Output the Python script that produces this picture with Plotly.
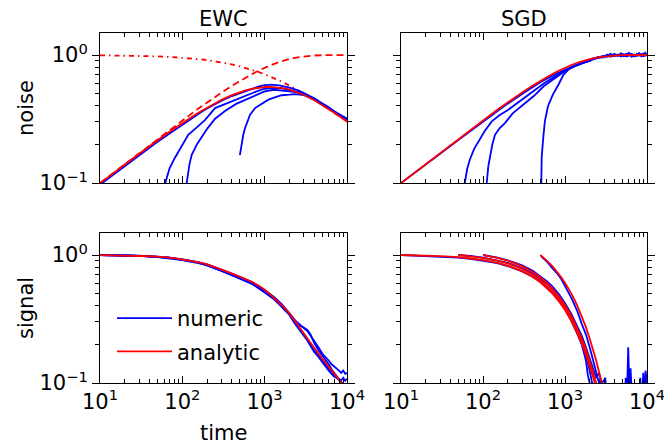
import plotly.graph_objects as go

# ---------------- data ----------------
T = [10, 12, 15, 20, 25, 30, 40, 50, 70, 100, 130, 170, 200, 250, 300, 400, 500, 600,
     700, 850, 1000, 1200, 1500, 1800, 2000, 2500, 3000, 4000, 5000, 6000, 7000, 8500, 10000]

ewc_noise_analytic = [0.100, 0.1086, 0.1211, 0.1393, 0.1552, 0.1694, 0.1942, 0.2155, 0.2513, 0.2942,
                      0.3284, 0.3655, 0.3887, 0.4206, 0.4465, 0.4853, 0.5122, 0.5311, 0.5442, 0.5563,
                      0.5622, 0.5636, 0.5575, 0.5460, 0.5369, 0.5121, 0.4874, 0.4431, 0.4068, 0.3775,
                      0.3534, 0.3244, 0.3015]
ewc_noise_dashed = [0.0998, 0.1092, 0.1220, 0.1407, 0.1571, 0.1719, 0.1980, 0.2208, 0.2600, 0.3085,
                    0.3491, 0.3954, 0.4258, 0.4703, 0.5091, 0.5742, 0.6273, 0.6717, 0.7095, 0.7567,
                    0.7951, 0.8360, 0.8814, 0.9136, 0.9299, 0.9581, 0.9748, 0.9908, 0.9966, 0.9988,
                    0.9995, 0.9999, 1.0]
ewc_noise_dashdot = [0.9950, 0.9941, 0.9926, 0.9901, 0.9877, 0.9853, 0.9806, 0.9759, 0.9667, 0.9535,
                     0.9407, 0.9245, 0.9129, 0.8944, 0.8771, 0.8452, 0.8165, 0.7906, 0.7670, 0.7352,
                     0.7071, 0.6742, 0.6325, 0.5976, 0.5774, 0.5345, 0.5000, 0.4472, 0.4082, 0.3780,
                     0.3536, 0.3244, 0.3015]

ewc_n1_t = T
ewc_n1_v = [0.097, 0.106, 0.118, 0.136, 0.150, 0.165, 0.188, 0.210, 0.244, 0.286, 0.322, 0.358, 0.382,
            0.415, 0.440, 0.478, 0.505, 0.525, 0.545, 0.568, 0.582, 0.588, 0.578, 0.565, 0.555, 0.532,
            0.505, 0.458, 0.420, 0.388, 0.362, 0.337, 0.318]
ewc_n2_t = [55, 58, 62, 70, 81, 100, 118, 150, 188, 250, 330, 450, 630, 800, 1000, 1300, 1600, 2000,
            2500, 3000, 4000, 5000, 6000, 7000, 8500, 10000]
ewc_n2_v = [0.03, 0.06, 0.10, 0.13, 0.157, 0.20, 0.238, 0.272, 0.31, 0.385, 0.415, 0.45, 0.49, 0.52,
            0.545, 0.555, 0.55, 0.535, 0.515, 0.495, 0.46, 0.418, 0.39, 0.362, 0.337, 0.316]
ewc_n3_t = [108, 110, 113, 122, 130, 150, 171, 200, 250, 330, 450, 630, 800, 1000, 1300, 1600, 2000,
            2500, 3000, 4000, 5000, 6000, 7000, 8500, 10000]
ewc_n3_v = [0.04, 0.07, 0.10, 0.14, 0.166, 0.20, 0.228, 0.265, 0.318, 0.365, 0.415, 0.455, 0.49, 0.52,
            0.535, 0.53, 0.52, 0.51, 0.49, 0.452, 0.412, 0.382, 0.356, 0.332, 0.312]
ewc_n4_t = [500, 520, 550, 578, 632, 665, 764, 922, 1110, 1300, 1612, 2000, 2338, 3000, 4000, 5000,
            6000, 7000, 8500, 10000]
ewc_n4_v = [0.165, 0.20, 0.238, 0.269, 0.31, 0.342, 0.385, 0.414, 0.448, 0.465, 0.485, 0.49, 0.495,
            0.485, 0.45, 0.415, 0.385, 0.36, 0.335, 0.318]

sgd_noise_analytic = ewc_noise_dashed
LATE_T = [2200, 2500, 2800, 3000, 3300, 3600, 4000, 4400, 4800, 5200, 5600, 6000, 6500, 7000, 7500,
          8000, 8500, 9000, 9500, 10000]
sgd_n1_t = [10, 15, 20, 30, 50, 70, 100, 150, 200, 300, 400, 500, 700, 1000, 1300, 1600, 2000] + LATE_T
sgd_n1_v = [0.1, 0.121, 0.139, 0.169, 0.217, 0.255, 0.302, 0.366, 0.417, 0.497, 0.56, 0.612, 0.69,
            0.77, 0.825, 0.86, 0.905] + \
           [0.93, 0.95, 0.965, 0.96, 0.995, 0.975, 1.02, 0.985, 1.03, 1.0, 0.98, 1.025, 0.99, 1.01,
            0.98, 1.035, 1.0, 0.99, 1.04, 1.0]
sgd_n2_t = [57, 60, 64, 69, 78, 88, 105, 128, 160, 204, 260, 325, 420, 550, 700, 850, 1000, 1300,
            1600, 2000] + LATE_T
sgd_n2_v = [0.05, 0.10, 0.128, 0.152, 0.185, 0.212, 0.255, 0.303, 0.34, 0.374, 0.42, 0.461, 0.52,
            0.60, 0.66, 0.71, 0.76, 0.815, 0.865, 0.905] + \
           [0.935, 0.955, 0.97, 0.985, 0.97, 1.0, 0.985, 1.01, 0.975, 1.0, 1.02, 0.985, 1.0, 0.975,
            1.02, 0.99, 1.005, 1.025, 0.985, 1.01]
sgd_n3_t = [108, 111, 116, 122, 130, 140, 160, 185, 230, 325, 420, 550, 700, 850, 1000, 1300, 1600,
            2000] + LATE_T
sgd_n3_v = [0.05, 0.10, 0.135, 0.166, 0.20, 0.238, 0.268, 0.294, 0.35, 0.42, 0.48, 0.57, 0.64, 0.70,
            0.75, 0.815, 0.86, 0.90] + \
           [0.925, 0.96, 0.955, 0.98, 1.01, 0.97, 1.0, 0.99, 1.015, 0.98, 1.0, 1.04, 0.97, 1.0,
            0.99, 1.02, 0.975, 1.0, 1.02, 0.99]
sgd_n4_t = [505, 509, 520, 543, 568, 620, 711, 831, 957, 1100, 1300, 1600, 2000] + LATE_T
sgd_n4_v = [0.05, 0.10, 0.16, 0.225, 0.303, 0.398, 0.49, 0.586, 0.70, 0.77, 0.82, 0.865, 0.90] + \
           [0.94, 0.945, 0.975, 0.97, 0.985, 1.02, 0.98, 1.0, 0.99, 1.01, 0.975, 1.0, 1.02, 0.985,
            1.0, 0.995, 1.01, 0.98, 1.0, 1.02]

ewc_signal_analytic = [0.998, 0.997, 0.995, 0.992, 0.989, 0.985, 0.978, 0.970, 0.955, 0.925, 0.900,
                       0.867, 0.845, 0.805, 0.770, 0.715, 0.675, 0.648, 0.618, 0.575, 0.535, 0.485,
                       0.425, 0.378, 0.350, 0.285, 0.245, 0.188, 0.155, 0.133, 0.117, 0.101, 0.089]
ES_T = [10, 15, 20, 30, 50, 70, 100, 150, 200, 300, 400, 500, 700, 1000, 1300, 1600, 2000, 2300,
        2600, 3000, 3300, 3600, 4000, 4500, 5000, 5500, 6000, 6500, 7000, 7500, 8000, 8500, 9000,
        9500, 10000]
ewc_s1_v = [1.0, 0.997, 0.993, 0.985, 0.968, 0.952, 0.92, 0.88, 0.84, 0.765, 0.71, 0.67, 0.61, 0.525,
            0.465, 0.41, 0.35, 0.31, 0.29, 0.265, 0.255, 0.235, 0.21, 0.19, 0.17, 0.16, 0.15, 0.14,
            0.135, 0.13, 0.125, 0.12, 0.125, 0.118, 0.12]
ewc_s2_v = [1.0, 0.996, 0.992, 0.983, 0.966, 0.948, 0.915, 0.875, 0.83, 0.755, 0.70, 0.66, 0.60, 0.515,
            0.455, 0.40, 0.345, 0.30, 0.27, 0.24, 0.22, 0.20, 0.185, 0.165, 0.15, 0.14, 0.13, 0.12,
            0.115, 0.11, 0.105, 0.10, 0.097, 0.095, 0.092]
ewc_s3_v = [1.0, 0.998, 0.994, 0.987, 0.97, 0.955, 0.925, 0.885, 0.845, 0.77, 0.715, 0.675, 0.615,
            0.53, 0.47, 0.415, 0.35, 0.31, 0.285, 0.27, 0.26, 0.24, 0.205, 0.18, 0.165, 0.15, 0.14,
            0.128, 0.12, 0.112, 0.105, 0.10, 0.095, 0.09, 0.088]
ewc_s4_v = [1.0, 0.997, 0.992, 0.984, 0.965, 0.945, 0.912, 0.87, 0.828, 0.75, 0.695, 0.655, 0.595,
            0.51, 0.45, 0.395, 0.34, 0.295, 0.265, 0.235, 0.215, 0.195, 0.175, 0.16, 0.145, 0.135,
            0.125, 0.118, 0.112, 0.11, 0.108, 0.105, 0.11, 0.104, 0.108]

sgd_r10_t = [10, 15, 20, 30, 50, 70, 100, 150, 200, 300, 400, 500, 600, 700, 850, 1000, 1200, 1400,
             1600, 1800, 2000, 2200, 2400, 2600]
sgd_r10_v = [1.0, 0.995, 0.990, 0.980, 0.961, 0.942, 0.914, 0.869, 0.827, 0.748, 0.677, 0.613, 0.554,
             0.502, 0.432, 0.372, 0.304, 0.249, 0.204, 0.167, 0.137, 0.112, 0.0916, 0.075]
sgd_r50_t = [50, 70, 100, 150, 200, 300, 400, 500, 600, 700, 850, 1000, 1200, 1400, 1600, 1800, 2000,
             2200, 2400, 2600]
sgd_r50_v = [1.0, 0.980, 0.951, 0.905, 0.861, 0.779, 0.705, 0.638, 0.577, 0.522, 0.449, 0.387, 0.317,
             0.259, 0.212, 0.174, 0.142, 0.116, 0.0954, 0.078]
sgd_r100_t = [100, 150, 200, 300, 400, 500, 600, 700, 850, 1000, 1200, 1400, 1600, 1800, 2000, 2200,
              2400, 2600, 2800]
sgd_r100_v = [1.0, 0.951, 0.905, 0.819, 0.741, 0.670, 0.607, 0.549, 0.472, 0.407, 0.333, 0.273, 0.223,
              0.183, 0.150, 0.122, 0.100, 0.082, 0.067]
sgd_r500_t = [500, 550, 600, 700, 800, 900, 1000, 1100, 1200, 1400, 1600, 1800, 2000, 2200, 2400, 2600,
              2800, 3000]
sgd_r500_v = [1.0, 0.951, 0.905, 0.819, 0.741, 0.670, 0.607, 0.549, 0.497, 0.407, 0.333, 0.273, 0.223,
              0.183, 0.150, 0.122, 0.100, 0.082]

sgd_s10_t = [10, 15, 20, 30, 50, 70, 100, 150, 200, 300, 400, 500, 600, 700, 850, 1000, 1200, 1400,
             1600, 1800, 1900, 2000, 2100]
sgd_s10_v = [1.0, 0.99, 0.985, 0.975, 0.955, 0.935, 0.905, 0.865, 0.82, 0.745, 0.68, 0.62, 0.565, 0.51,
             0.44, 0.38, 0.305, 0.245, 0.20, 0.15, 0.115, 0.10, 0.08]
sgd_s50_t = [50, 70, 100, 150, 200, 300, 400, 500, 600, 700, 850, 1000, 1200, 1400, 1600, 1800, 2000,
             2100, 2200, 2300]
sgd_s50_v = [1.0, 0.985, 0.955, 0.91, 0.87, 0.79, 0.72, 0.655, 0.60, 0.545, 0.47, 0.40, 0.325, 0.26,
             0.20, 0.165, 0.125, 0.11, 0.095, 0.08]
sgd_s100_t = [100, 150, 200, 300, 400, 500, 600, 700, 850, 1000, 1200, 1400, 1600, 1800, 2000, 2200,
              2400, 2600, 2800, 3000, 3100, 3200]
sgd_s100_v = [1.0, 0.955, 0.91, 0.83, 0.755, 0.685, 0.625, 0.57, 0.49, 0.42, 0.345, 0.28, 0.235, 0.19,
              0.155, 0.13, 0.11, 0.12, 0.10, 0.105, 0.11, 0.07]
sgd_s500_t = [510, 550, 600, 700, 800, 900, 1000, 1100, 1200, 1400, 1600, 1800, 2000, 2200, 2400, 2600,
              2700, 2800, 3000, 3500, 4000, 4500, 5000, 5300, 5500, 5700, 5900, 6100, 6300, 6500, 6800,
              7200, 7600, 8000, 8300, 8600, 9000, 9300, 9600, 10000]
sgd_s500_v = [0.98, 0.94, 0.89, 0.79, 0.72, 0.65, 0.58, 0.51, 0.46, 0.37, 0.29, 0.24, 0.19, 0.15, 0.12,
              0.10, 0.108, 0.09, 0.06, 0.05, 0.05, 0.05, 0.05, 0.05, 0.11, 0.08, 0.19, 0.09, 0.13, 0.06,
              0.05, 0.05, 0.05, 0.05, 0.11, 0.06, 0.12, 0.08, 0.125, 0.10]

X_TICKS = [10, 100, 1000, 10000]
X_TICKTEXT = ["10<sup>1</sup>", "10<sup>2</sup>", "10<sup>3</sup>", "10<sup>4</sup>"]
Y_TICKS = [0.1, 1]
Y_TICKTEXT = ["10<sup>\u22121</sup>", "10<sup>0</sup>"]
X_MINOR = [m * 10 ** k for k in (1, 2, 3) for m in range(2, 10)]
Y_MINOR = [m / 10 for m in range(2, 10)]

BLUE = "#0000ff"
RED = "#ff0000"
FONT = "DejaVu Sans"
FS = 21
LW = 1.8

fig = go.Figure()


def add(x, y, ax, color, dash="solid", name=None, show=False, group=None):
    fig.add_trace(go.Scatter(
        x=x, y=y, mode="lines", xaxis="x" + ax, yaxis="y" + ax,
        line=dict(color=color, width=LW, dash=dash),
        name=name, showlegend=show, legendgroup=group, hoverinfo="skip"))


add(T, ewc_noise_dashdot, "", RED, dash="5px,4px,1.5px,4px")
add(T, ewc_noise_dashed, "", RED, dash="7px,4px")
add(ewc_n1_t, ewc_n1_v, "", BLUE)
add(ewc_n2_t, ewc_n2_v, "", BLUE)
add(ewc_n3_t, ewc_n3_v, "", BLUE)
add(ewc_n4_t, ewc_n4_v, "", BLUE)
add(T, ewc_noise_analytic, "", RED)

add(sgd_n1_t, sgd_n1_v, "2", BLUE)
add(sgd_n2_t, sgd_n2_v, "2", BLUE)
add(sgd_n3_t, sgd_n3_v, "2", BLUE)
add(sgd_n4_t, sgd_n4_v, "2", BLUE)
add(T, sgd_noise_analytic, "2", RED)

add(ES_T, ewc_s1_v, "3", BLUE, name="numeric", show=True, group="a")
add(ES_T, ewc_s2_v, "3", BLUE)
add(ES_T, ewc_s3_v, "3", BLUE)
add(ES_T, ewc_s4_v, "3", BLUE)
add(T, ewc_signal_analytic, "3", RED, name="analytic", show=True, group="b")

add(sgd_s10_t, sgd_s10_v, "4", BLUE)
add(sgd_s50_t, sgd_s50_v, "4", BLUE)
add(sgd_s100_t, sgd_s100_v, "4", BLUE)
add(sgd_s500_t, sgd_s500_v, "4", BLUE)
add(sgd_r10_t, sgd_r10_v, "4", RED)
add(sgd_r50_t, sgd_r50_v, "4", RED)
add(sgd_r100_t, sgd_r100_v, "4", RED)
add(sgd_r500_t, sgd_r500_v, "4", RED)

W, H = 664, 445
XL = [100 / W, 347 / W]
XR = [401 / W, 647 / W]
YT = [(H - 183) / H, (H - 33) / H]
YB = [(H - 383) / H, (H - 233) / H]


def xaxis(domain, anchor, labels):
    return dict(type="log", domain=domain, anchor=anchor, range=[1, 4], automargin=False,
                tickvals=X_TICKS, ticktext=X_TICKTEXT, showticklabels=labels,
                ticklabeloverflow="allow",
                ticks="inside", ticklen=7, tickwidth=1, tickcolor="black",
                minor=dict(tickvals=X_MINOR, ticks="inside", ticklen=4, tickcolor="black",
                           tickwidth=1, showgrid=False),
                showline=True, linecolor="black", linewidth=1, mirror="allticks",
                showgrid=False, zeroline=False,
                tickfont=dict(family=FONT, size=FS, color="black"))


def yaxis(domain, anchor, labels):
    return dict(type="log", domain=domain, anchor=anchor, range=[-1, 0.172], automargin=False,
                tickvals=Y_TICKS, ticktext=Y_TICKTEXT, showticklabels=labels,
                ticklabeloverflow="allow",
                ticks="outside", ticklen=7, tickwidth=1, tickcolor="black",
                minor=dict(tickvals=Y_MINOR, ticks="outside", ticklen=4, tickcolor="black",
                           tickwidth=1, showgrid=False),
                showline=True, linecolor="black", linewidth=1, mirror="allticks",
                showgrid=False, zeroline=False,
                tickfont=dict(family=FONT, size=FS, color="black"))


fig.update_layout(
    width=W, height=H, margin=dict(l=0, r=0, t=0, b=0, pad=0, autoexpand=False),
    paper_bgcolor="white", plot_bgcolor="white",
    font=dict(family=FONT, size=FS, color="black"),
    xaxis=xaxis(XL, "y", False), yaxis=yaxis(YT, "x", True),
    xaxis2=xaxis(XR, "y2", False), yaxis2=yaxis(YT, "x2", False),
    xaxis3=xaxis(XL, "y3", True), yaxis3=yaxis(YB, "x3", True),
    xaxis4=xaxis(XR, "y4", True), yaxis4=yaxis(YB, "x4", False),
    legend=dict(x=112 / W, y=(H - 298) / H, xanchor="left", yanchor="top",
                bgcolor="rgba(0,0,0,0)", font=dict(family=FONT, size=FS, color="black"),
                itemwidth=55, tracegroupgap=3, traceorder="grouped"),
    annotations=[
        dict(text="EWC", x=(XL[0] + XL[1]) / 2, y=(H - 19) / H, xref="paper", yref="paper",
             showarrow=False, font=dict(size=FS), xanchor="center", yanchor="middle"),
        dict(text="SGD", x=(XR[0] + XR[1]) / 2, y=(H - 19) / H, xref="paper", yref="paper",
             showarrow=False, font=dict(size=FS), xanchor="center", yanchor="middle"),
        dict(text="noise", x=26 / W, y=(H - 108) / H, xref="paper", yref="paper", textangle=-90,
             showarrow=False, font=dict(size=FS), xanchor="center", yanchor="middle"),
        dict(text="signal", x=26 / W, y=(H - 308) / H, xref="paper", yref="paper", textangle=-90,
             showarrow=False, font=dict(size=FS), xanchor="center", yanchor="middle"),
        dict(text="time", x=(XL[0] + XL[1]) / 2, y=(H - 433) / H, xref="paper", yref="paper",
             showarrow=False, font=dict(size=FS), xanchor="center", yanchor="middle"),
    ],
)

fig.write_html("out.html", config={"displayModeBar": False},
               post_script="document.body.style.margin='0';")
